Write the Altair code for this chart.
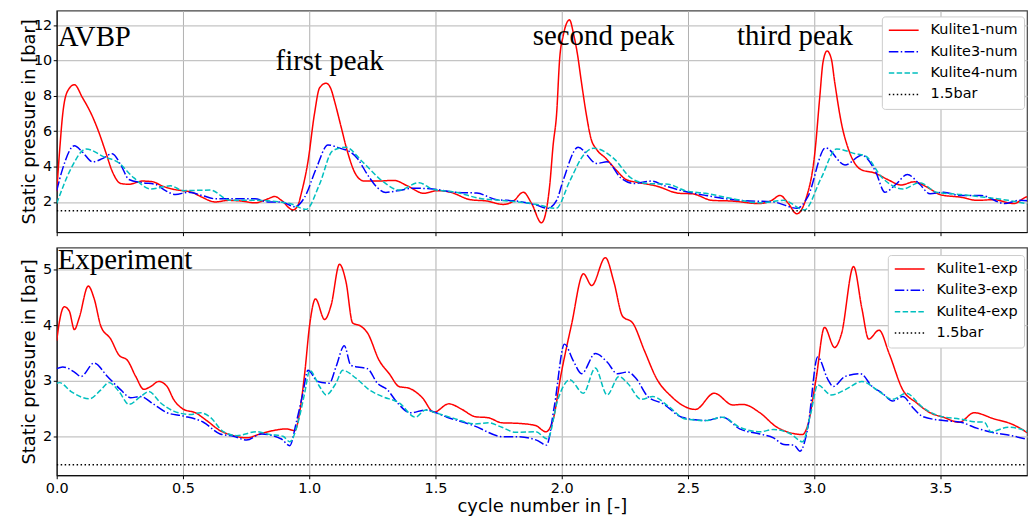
import altair as alt
import pandas as pd

# ---------------- axes / categories ----------------
X_TICKS = [0.0, 0.5, 1.0, 1.5, 2.0, 2.5, 3.0, 3.5]
X_DOMAIN = [0.0, 3.843]
TOP_Y_TICKS = [2, 4, 6, 8, 10, 12]
TOP_Y_DOMAIN = [0.29, 12.83]
BOT_Y_TICKS = [2, 3, 4, 5]
BOT_Y_DOMAIN = [1.31, 5.39]
REF_LEVEL = 1.5

TOP_NAMES = ["Kulite1-num", "Kulite3-num", "Kulite4-num", "1.5bar"]
BOT_NAMES = ["Kulite1-exp", "Kulite3-exp", "Kulite4-exp", "1.5bar"]
COLORS = ["#ff0000", "#0000ff", "#00bfbf", "#000000"]
DASHES = [[1, 0], [9.6, 2.4, 1.5, 2.4], [5.5, 2.4], [1.5, 2.5]]

# ---------------- AVBP (numerical) series: (cycle, pressure) ----------------
NUM_K1 = [(0, 2.6), (0.011, 4.8), (0.024, 7.0), (0.043, 8.27), (0.070, 8.63), (0.102, 7.9), (0.142, 6.82),
          (0.168, 5.9), (0.194, 4.82), (0.220, 3.73), (0.254, 3.04), (0.286, 3.0), (0.339, 3.18), (0.378, 3.15),
          (0.417, 2.91), (0.457, 2.73), (0.496, 2.64), (0.535, 2.55), (0.575, 2.27), (0.628, 2.0), (0.680, 2.09),
          (0.732, 2.05), (0.785, 1.95), (0.837, 2.18), (0.864, 2.31), (0.890, 2.09), (0.936, 1.55), (0.955, 1.8),
          (0.969, 2.5), (0.995, 4.27), (1.021, 7.0), (1.041, 8.45), (1.067, 8.72), (1.087, 8.36), (1.100, 7.72),
          (1.126, 6.27), (1.152, 4.82), (1.185, 3.55), (1.218, 3.18), (1.270, 3.18), (1.336, 3.22), (1.389, 2.91),
          (1.454, 2.49), (1.507, 2.64), (1.559, 2.55), (1.638, 2.13), (1.704, 2.05), (1.769, 1.86), (1.809, 2.05),
          (1.848, 2.55), (1.881, 1.91), (1.920, 0.82), (1.940, 1.6), (1.953, 3.0), (1.966, 5.2), (1.980, 7.0),
          (1.992, 10.1), (2.006, 11.4), (2.031, 12.3), (2.047, 11.5), (2.062, 10.4), (2.078, 8.8), (2.097, 7.0),
          (2.117, 5.54), (2.137, 5.0), (2.176, 4.45), (2.215, 3.82), (2.255, 3.27), (2.307, 3.09), (2.373, 2.91),
          (2.465, 2.49), (2.517, 2.46), (2.596, 2.09), (2.675, 2.05), (2.780, 1.91), (2.832, 2.09), (2.865, 2.37),
          (2.898, 1.91), (2.931, 1.33), (2.968, 2.2), (3.003, 4.82), (3.022, 7.9), (3.035, 9.9), (3.051, 10.54),
          (3.068, 10.09), (3.081, 8.81), (3.108, 6.45), (3.140, 4.82), (3.187, 3.82), (3.239, 3.64), (3.291, 3.27),
          (3.344, 2.96), (3.396, 3.14), (3.449, 2.82), (3.502, 2.4), (3.580, 2.27), (3.646, 2.09), (3.711, 2.13),
          (3.790, 1.91), (3.849, 2.31), (3.869, 2.2)]

NUM_K3 = [(0, 2.64), (0.024, 3.9), (0.070, 5.18), (0.102, 4.82), (0.142, 4.27), (0.181, 4.45), (0.220, 4.73),
          (0.254, 4.09), (0.286, 3.27), (0.339, 3.09), (0.391, 3.0), (0.431, 2.64), (0.470, 2.42), (0.522, 2.55),
          (0.575, 2.37), (0.628, 2.18), (0.706, 2.18), (0.785, 2.18), (0.837, 2.0), (0.890, 2.0), (0.943, 1.73),
          (0.982, 2.27), (1.028, 3.9), (1.074, 5.22), (1.130, 5.0), (1.160, 4.85), (1.192, 4.44), (1.231, 3.54),
          (1.270, 2.81), (1.303, 2.54), (1.349, 2.63), (1.415, 2.78), (1.490, 2.73), (1.585, 2.54), (1.664, 2.5),
          (1.743, 2.13), (1.822, 2.05), (1.900, 1.82), (1.945, 1.64), (1.980, 2.09), (2.005, 3.18), (2.065, 5.09),
          (2.139, 4.18), (2.180, 4.27), (2.234, 3.36), (2.287, 3.04), (2.355, 3.18), (2.409, 2.91), (2.476, 2.64),
          (2.570, 2.37), (2.705, 2.09), (2.839, 2.0), (2.933, 1.64), (2.974, 2.27), (3.045, 5.06), (3.122, 4.09),
          (3.189, 4.64), (3.243, 3.73), (3.280, 2.55), (3.324, 3.0), (3.369, 3.55), (3.418, 3.0), (3.459, 2.46),
          (3.512, 2.55), (3.580, 2.37), (3.661, 2.37), (3.755, 1.91), (3.809, 2.09), (3.869, 2.04)]

NUM_K4 = [(0, 1.91), (0.057, 3.9), (0.116, 5.0), (0.188, 4.55), (0.240, 4.27), (0.306, 3.36), (0.372, 2.73),
          (0.450, 2.91), (0.503, 2.64), (0.608, 2.67), (0.687, 2.09), (0.791, 2.09), (0.923, 1.91), (0.988, 1.58),
          (1.041, 3.0), (1.093, 4.9), (1.146, 5.09), (1.211, 4.27), (1.290, 3.18), (1.356, 2.67), (1.435, 3.09),
          (1.487, 2.73), (1.579, 2.55), (1.684, 2.18), (1.763, 2.09), (1.897, 1.87), (1.978, 1.64), (2.032, 3.18),
          (2.086, 4.64), (2.126, 5.04), (2.207, 4.45), (2.274, 3.36), (2.341, 3.04), (2.422, 3.0), (2.489, 2.64),
          (2.570, 2.49), (2.678, 2.18), (2.785, 1.95), (2.880, 2.09), (2.961, 1.55), (3.028, 3.36), (3.089, 5.0),
          (3.163, 4.73), (3.203, 4.6), (3.270, 3.36), (3.351, 2.73), (3.418, 3.09), (3.485, 2.55), (3.580, 2.42),
          (3.674, 2.27), (3.768, 2.09), (3.869, 1.82)]

# ---------------- Experiment series ----------------
EXP_K1 = [(0, 3.72), (0.011, 4.07), (0.030, 4.33), (0.050, 4.25), (0.070, 3.92), (0.089, 4.13), (0.125, 4.7),
          (0.148, 4.48), (0.175, 3.98), (0.214, 3.75), (0.247, 3.46), (0.280, 3.37), (0.313, 3.08), (0.345, 2.85),
          (0.372, 2.9), (0.404, 2.99), (0.437, 2.9), (0.463, 2.67), (0.503, 2.49), (0.549, 2.43), (0.594, 2.29),
          (0.647, 2.11), (0.700, 2.02), (0.752, 1.98), (0.805, 2.05), (0.857, 2.11), (0.909, 2.14), (0.943, 2.11),
          (0.962, 2.43), (0.982, 3.13), (1.002, 4.01), (1.025, 4.47), (1.061, 4.1), (1.087, 4.36), (1.120, 5.09),
          (1.146, 4.77), (1.172, 4.04), (1.205, 3.98), (1.231, 3.86), (1.277, 3.37), (1.317, 3.13), (1.356, 2.9),
          (1.395, 2.87), (1.448, 2.7), (1.494, 2.44), (1.553, 2.59), (1.605, 2.49), (1.657, 2.36), (1.710, 2.34),
          (1.763, 2.25), (1.828, 2.24), (1.897, 2.2), (1.937, 2.09), (1.965, 2.29), (1.998, 3.13), (2.039, 4.01),
          (2.086, 4.92), (2.119, 4.71), (2.173, 5.21), (2.207, 4.77), (2.241, 4.16), (2.281, 4.04), (2.328, 3.54),
          (2.375, 3.05), (2.435, 2.72), (2.476, 2.57), (2.530, 2.49), (2.604, 2.78), (2.678, 2.57), (2.718, 2.58),
          (2.785, 2.43), (2.853, 2.17), (2.954, 2.04), (2.974, 2.2), (3.007, 3.02), (3.041, 3.96), (3.081, 3.6),
          (3.108, 3.84), (3.156, 5.05), (3.189, 4.3), (3.216, 3.75), (3.257, 3.91), (3.297, 3.49), (3.351, 2.84),
          (3.405, 2.61), (3.459, 2.43), (3.512, 2.35), (3.575, 2.26), (3.633, 2.43), (3.713, 2.32), (3.781, 2.23),
          (3.869, 2.0)]

EXP_K3 = [(0, 3.22), (0.024, 3.25), (0.070, 3.16), (0.096, 3.08), (0.148, 3.32), (0.201, 3.08), (0.254, 2.84),
          (0.293, 2.7), (0.332, 2.72), (0.385, 2.58), (0.437, 2.43), (0.503, 2.37), (0.581, 2.26), (0.647, 2.05),
          (0.700, 2.01), (0.752, 1.94), (0.811, 2.05), (0.890, 1.96), (0.923, 1.84), (0.949, 2.26), (0.975, 2.78),
          (0.995, 3.19), (1.034, 2.99), (1.080, 2.96), (1.106, 3.25), (1.139, 3.63), (1.165, 3.28), (1.192, 3.25),
          (1.231, 3.22), (1.270, 2.96), (1.310, 2.84), (1.349, 2.61), (1.402, 2.43), (1.461, 2.48), (1.546, 2.35),
          (1.651, 2.2), (1.769, 2.0), (1.822, 2.0), (1.900, 1.94), (1.940, 1.85), (1.971, 2.55), (2.011, 3.66),
          (2.045, 3.37), (2.079, 3.13), (2.133, 3.49), (2.180, 3.34), (2.220, 3.13), (2.261, 3.16), (2.294, 3.05),
          (2.341, 2.72), (2.402, 2.59), (2.476, 2.35), (2.570, 2.29), (2.637, 2.35), (2.705, 2.14), (2.785, 2.05),
          (2.839, 1.98), (2.880, 1.86), (2.920, 1.85), (2.944, 1.74), (2.974, 2.14), (3.014, 3.43), (3.055, 3.02),
          (3.075, 2.9), (3.122, 3.08), (3.183, 3.13), (3.230, 2.9), (3.270, 2.78), (3.311, 2.64), (3.351, 2.72),
          (3.391, 2.52), (3.431, 2.36), (3.512, 2.29), (3.580, 2.26), (3.647, 2.15), (3.714, 2.07), (3.781, 2.02),
          (3.869, 1.92)]

EXP_K4 = [(0, 2.96), (0.011, 2.97), (0.057, 2.81), (0.129, 2.68), (0.175, 2.84), (0.207, 2.97), (0.247, 2.81),
          (0.286, 2.58), (0.332, 2.72), (0.365, 2.81), (0.411, 2.61), (0.463, 2.46), (0.529, 2.4), (0.569, 2.43),
          (0.608, 2.35), (0.660, 2.09), (0.713, 2.02), (0.791, 2.09), (0.844, 2.04), (0.896, 2.01), (0.923, 1.91),
          (0.956, 2.26), (0.982, 2.78), (1.002, 3.19), (1.041, 2.9), (1.067, 2.75), (1.106, 2.96), (1.133, 3.19),
          (1.185, 3.05), (1.238, 2.84), (1.290, 2.72), (1.356, 2.61), (1.421, 2.35), (1.461, 2.48), (1.500, 2.43),
          (1.579, 2.32), (1.657, 2.23), (1.710, 2.25), (1.763, 2.17), (1.817, 2.08), (1.897, 2.09), (1.944, 1.96),
          (1.985, 2.67), (2.032, 3.02), (2.086, 2.78), (2.133, 3.23), (2.180, 2.75), (2.227, 3.08), (2.261, 2.96),
          (2.315, 2.67), (2.361, 2.72), (2.422, 2.55), (2.489, 2.32), (2.570, 2.29), (2.637, 2.35), (2.705, 2.17),
          (2.785, 2.09), (2.839, 2.13), (2.907, 2.05), (2.954, 1.91), (2.987, 2.43), (3.014, 2.93), (3.068, 2.75),
          (3.122, 2.84), (3.189, 2.99), (3.257, 2.81), (3.311, 2.67), (3.364, 2.78), (3.431, 2.52), (3.499, 2.37),
          (3.575, 2.32), (3.633, 2.27), (3.674, 2.26), (3.700, 2.09), (3.768, 2.17), (3.835, 2.11), (3.869, 2.03)]

# ---------------- annotations ----------------
TOP_LEFT_TEXT = ["AVBP"]
TOP_LEFT_X = [0.004]
TOP_LEFT_Y = [10.8]
TOP_CENTER_TEXT = ["first peak", "second peak", "third peak"]
TOP_CENTER_X = [1.081, 2.166, 2.924]
TOP_CENTER_Y = [9.49, 10.9, 10.9]
BOT_LEFT_TEXT = ["Experiment"]
BOT_LEFT_X = [0.004]
BOT_LEFT_Y = [5.0]

PLOT_W = 976


def build_frame(names, series):
    rows = []
    for name, pts in zip(names[:3], series):
        for i, (x, y) in enumerate(pts):
            rows.append({"series": name, "x": x, "y": y, "i": i})
    for i, x in enumerate(X_DOMAIN):
        rows.append({"series": names[3], "x": x, "y": REF_LEVEL, "i": i})
    return pd.DataFrame(rows)


def make_legend(lx, ly):
    return alt.Legend(title=None, orient="none", legendX=lx, legendY=ly,
                      labelFont="DejaVu Sans", labelFontSize=14.5, labelColor="black",
                      symbolType="stroke", symbolSize=900, symbolStrokeWidth=1.5,
                      labelOffset=11, clipHeight=16, rowPadding=5.5, padding=6,
                      fillColor="white", strokeColor="#cccccc", cornerRadius=3, labelLimit=200)


def panel(df, names, y_domain, y_ticks, legend_xy, bottom, height, left_txt, center_txt):
    xs = alt.Scale(domain=X_DOMAIN, nice=False, zero=False)
    ys = alt.Scale(domain=y_domain, nice=False, zero=False)
    if bottom:
        xaxis = alt.Axis(values=X_TICKS, format=".1f", title="cycle number in [-]", tickSize=3.5,
                         labelPadding=2.5, titlePadding=3, labelFontSize=14.5, titleFontSize=18,
                         grid=True, gridColor="#b0b0b0", gridWidth=1, labelFlush=False)
    else:
        xaxis = alt.Axis(values=X_TICKS, labels=False, title=None, tickSize=3.5,
                         grid=True, gridColor="#b0b0b0", gridWidth=1)
    yaxis = alt.Axis(values=y_ticks, format="d", title="Static pressure in [bar]", tickSize=3.5,
                     labelPadding=1.5, labelFontSize=14.5, titleFontSize=18, titleX=-22.5,
                     titleBaseline="alphabetic", grid=True, gridColor="#c4c4c4", gridWidth=1.3)
    leg = make_legend(*legend_xy)
    lines = alt.Chart(df).mark_line(strokeWidth=1.5, interpolate="monotone", clip=True).encode(
        x=alt.X("x:Q", scale=xs, axis=xaxis),
        y=alt.Y("y:Q", scale=ys, axis=yaxis),
        color=alt.Color("series:N", scale=alt.Scale(domain=names, range=COLORS), legend=leg),
        strokeDash=alt.StrokeDash("series:N", scale=alt.Scale(domain=names, range=DASHES), legend=leg),
        order="i:Q",
    )
    layers = [lines]
    lt, lx, ly = left_txt
    layers.append(alt.Chart(pd.DataFrame({"t": lt, "x": lx, "y": ly})).mark_text(
        align="left", baseline="alphabetic", font="Liberation Serif", fontSize=29, color="black"
    ).encode(x=alt.X("x:Q", scale=xs), y=alt.Y("y:Q", scale=ys), text="t:N"))
    if center_txt is not None:
        ct, cx, cy = center_txt
        layers.append(alt.Chart(pd.DataFrame({"t": ct, "x": cx, "y": cy})).mark_text(
            align="center", baseline="alphabetic", font="Liberation Serif", fontSize=29, color="black"
        ).encode(x=alt.X("x:Q", scale=xs), y=alt.Y("y:Q", scale=ys), text="t:N"))
    return alt.layer(*layers).properties(width=PLOT_W, height=height)


top_df = build_frame(TOP_NAMES, [NUM_K1, NUM_K3, NUM_K4])
bot_df = build_frame(BOT_NAMES, [EXP_K1, EXP_K3, EXP_K4])

top = panel(top_df, TOP_NAMES, TOP_Y_DOMAIN, TOP_Y_TICKS, (PLOT_W - 146, 6), False, 223,
            (TOP_LEFT_TEXT, TOP_LEFT_X, TOP_LEFT_Y), (TOP_CENTER_TEXT, TOP_CENTER_X, TOP_CENTER_Y))
bottom = panel(bot_df, BOT_NAMES, BOT_Y_DOMAIN, BOT_Y_TICKS, (PLOT_W - 140, 7.5), True, 229,
               (BOT_LEFT_TEXT, BOT_LEFT_X, BOT_LEFT_Y), None)

chart = alt.vconcat(top, bottom, spacing=8.5).resolve_scale(
    color="independent", strokeDash="independent"
).resolve_legend(color="independent", strokeDash="independent").properties(
    padding={"left": 11, "top": 0, "right": 0, "bottom": 0}
).configure_view(stroke="#444444", strokeWidth=1.2).configure_axis(
    labelFont="DejaVu Sans", titleFont="DejaVu Sans", labelColor="black", titleColor="black",
    domainColor="black", tickColor="black", titleFontWeight="normal", domainWidth=1
)

chart.save("out.html", embed_options={"renderer": "svg", "actions": False})
